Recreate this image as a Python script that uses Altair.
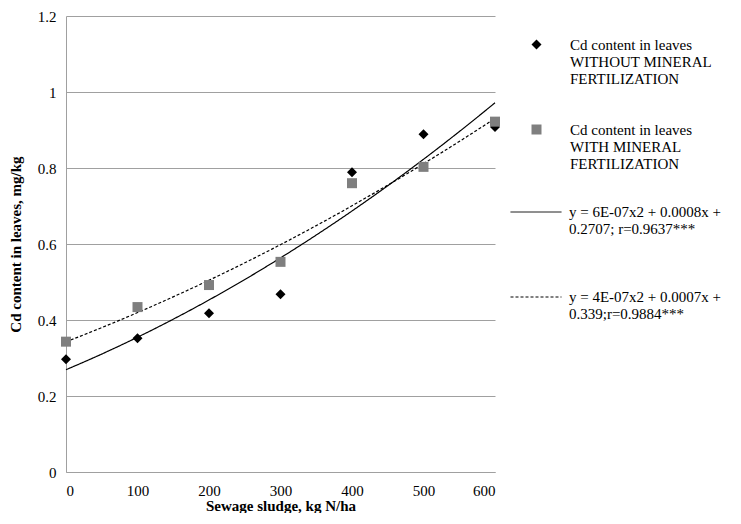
import altair as alt
import pandas as pd

# --- data ---
sludge = [0, 100, 200, 300, 400, 500, 600]
cd_without = [0.297, 0.352, 0.418, 0.468, 0.789, 0.889, 0.908]
cd_with = [0.343, 0.434, 0.492, 0.553, 0.760, 0.803, 0.922]

series_names = [
    "Cd content in leaves|WITHOUT MINERAL|FERTILIZATION",
    "Cd content in leaves|WITH MINERAL|FERTILIZATION",
]
fit_names = [
    "y = 6E-07x2 + 0.0008x +|0.2707; r=0.9637***",
    "y = 4E-07x2 + 0.0007x +|0.339;r=0.9884***",
]
y_ticks = [0, 0.2, 0.4, 0.6, 0.8, 1.0, 1.2]
x_ticks = [0, 100, 200, 300, 400, 500, 600]

rows = []
for xv, a, b in zip(sludge, cd_without, cd_with):
    rows.append({"x": xv, "y": a, "series": series_names[0]})
    rows.append({"x": xv, "y": b, "series": series_names[1]})
df = pd.DataFrame(rows)

FONT = "Liberation Serif"
FS = 15

x_enc = alt.X(
    "x:Q",
    scale=alt.Scale(domain=[0, 600], nice=False),
    axis=alt.Axis(values=x_ticks, title="Sewage sludge, kg N/ha", grid=False,
                  ticks=False, labelPadding=11, titlePadding=0,
                  labelFont=FONT, titleFont=FONT, labelFontSize=FS, titleFontSize=FS),
)
y_enc = alt.Y(
    "y:Q",
    scale=alt.Scale(domain=[0, 1.2], nice=False),
    axis=alt.Axis(values=y_ticks, format="~g", title="Cd content in leaves, mg/kg",
                  grid=True, ticks=False, labelPadding=10, titlePadding=14,
                  labelFont=FONT, titleFont=FONT, labelFontSize=FS, titleFontSize=FS),
)

pt_legend = alt.Legend(orient="none", legendX=463, legendY=21, title=None,
                       labelExpr="split(datum.label, '|')", labelOffset=26,
                       rowPadding=35, labelLimit=0, labelFontSize=FS,
                       labelFont=FONT, labelFontWeight="normal",
                       labelColor="black")

points = alt.Chart(df).mark_point(filled=True, opacity=1, size=100).encode(
    x=x_enc,
    y=y_enc,
    shape=alt.Shape(
        "series:N",
        scale=alt.Scale(domain=series_names, range=["diamond", "square"]),
        legend=pt_legend,
    ),
    color=alt.Color(
        "series:N",
        scale=alt.Scale(domain=series_names, range=["#000000", "#7f7f7f"]),
        legend=pt_legend,
    ),
)

lines = alt.Chart(df).transform_regression(
    "x", "y", method="poly", order=2, groupby=["series"], extent=[0, 600]
).transform_calculate(
    fit=f"datum.series == '{series_names[0]}' ? '{fit_names[0]}' : '{fit_names[1]}'"
).mark_line(color="black", strokeWidth=1.2).encode(
    x="x:Q",
    y="y:Q",
    strokeDash=alt.StrokeDash(
        "fit:N",
        scale=alt.Scale(domain=fit_names, range=[[1, 0], [3, 2]]),
        legend=alt.Legend(orient="none", legendX=444, legendY=170, title=None,
                          labelExpr="split(datum.label, '|')", labelOffset=7,
                          rowPadding=34, labelLimit=0, labelFontSize=FS,
                          labelFont=FONT, labelFontWeight="normal",
                          labelColor="black",
                          symbolSize=2600, symbolStrokeColor="black",
                          symbolStrokeWidth=1),
    ),
)

chart = alt.layer(lines, points).properties(
    width=429, height=456,
    padding={"left": 0, "top": 1, "right": 0, "bottom": 0},
).configure_view(stroke=None).configure_axis(
    labelFont=FONT, titleFont=FONT, labelFontSize=FS, titleFontSize=FS,
    labelColor="black", titleColor="black", titleFontWeight="bold",
    gridColor="#a0a0a0", domainColor="#a0a0a0", gridWidth=1, domainWidth=1,
).configure_legend(
    labelFont=FONT, labelColor="black",
)

chart.save("out.html", embed_options={"renderer": "svg", "actions": False})
